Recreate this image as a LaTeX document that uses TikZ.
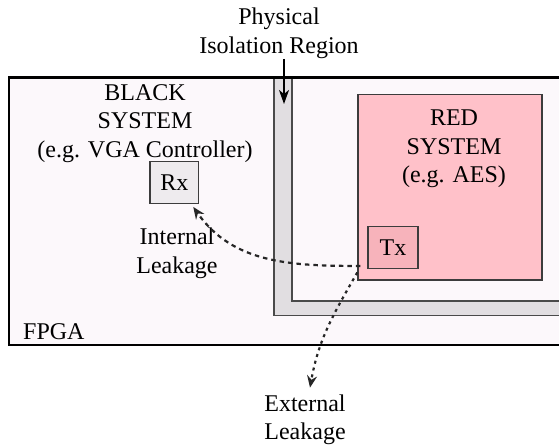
\documentclass[tikz,border=0pt]{standalone}
\usepackage{fontspec}
\setmainfont{Liberation Serif}
\usepackage{xcolor}
\usepackage{tikz}
\usetikzlibrary{positioning}
\usetikzlibrary{arrows.meta}
\definecolor{fpgafill}{HTML}{FCF8FB}
\definecolor{isogray}{HTML}{E1DEE1}
\definecolor{isoline}{HTML}{4A4A4A}
\definecolor{redfill}{HTML}{FFC1C9}
\definecolor{txfill}{HTML}{F7B3BB}
\definecolor{rxfill}{HTML}{EEEBEE}
\definecolor{boxline}{HTML}{3C3C3C}
\tikzset{
  unitbox/.style={draw=boxline,line width=1.3pt,inner sep=0pt},
  txt/.style={align=center,inner sep=0pt},
  tip/.style={-{Stealth[length=12pt,width=10pt,inset=4pt]}},
  leak/.style={tip,line width=2.2pt,draw=black!85}
}

\begin{document}
\begin{tikzpicture}[x=1pt,y=1pt,font=\fontsize{24}{28.5}\selectfont]
            \useasboundingbox (0,0) rectangle (559,446);
            \clip (0,0) rectangle (559,446);
            % FPGA area and isolation strip
            \fill[fpgafill] (9,101) rectangle (580,368.7);
            \draw[fill=isogray,draw=isoline,line width=1.3pt] (274,368.7) -- (274,130.3) -- (580,130.3) -- (580,145) -- (292,145) -- (292,368.7);
            \draw[line width=2.5pt] (9,101) rectangle (580,368.7);
            \draw[unitbox,fill=redfill] (358,166) rectangle (542,351.7);
            % boxes and labels
            \node[unitbox,fill=txfill,minimum width=50pt,minimum height=41.6pt] (tx) at (393,198.5) {Tx};
            \node[unitbox,fill=rxfill,minimum width=48.6pt,minimum height=41.6pt] (rx) at (174.3,263.5) {Rx};
            \node[txt] (black) at (145,322.5) {BLACK\\SYSTEM\\(e.g. VGA Controller)};
            \node[txt] (red) at (454,297) {RED\\SYSTEM\\(e.g. AES)};
            \node[anchor=west,inner sep=0pt] (fpga) at (23,114.3) {FPGA};
            \node[txt] (iso) at (279,412.5) {Physical\\Isolation Region};
            \node[txt] (intl) at (177,192.5) {Internal\\Leakage};
            \node[txt] (extl) at (305,26) {External\\Leakage};
            \coordinate (isotip) at (284,342);
            \coordinate (src) at ([xshift=-7pt,yshift=3pt]tx.south west);
            \coordinate (srcb) at ([xshift=-10pt,yshift=-3.5pt]tx.south west);
            \coordinate (rxtip) at ([xshift=-6pt,yshift=-3pt]rx.south east);
            \coordinate (exttip) at ([xshift=5pt,yshift=7pt]extl.north);
            % arrows
            \draw[-{Stealth[length=14pt,width=10pt,inset=4pt]},line width=1.8pt] (iso.south -| isotip) -- (isotip);
            \draw[leak,dash pattern=on 4.5pt off 4pt] (src) to[out=180,in=-55] (rxtip);
            \draw[leak,dash pattern=on 3pt off 4pt] (srcb) to[out=-120,in=80] (exttip);
\end{tikzpicture}
\end{document}
